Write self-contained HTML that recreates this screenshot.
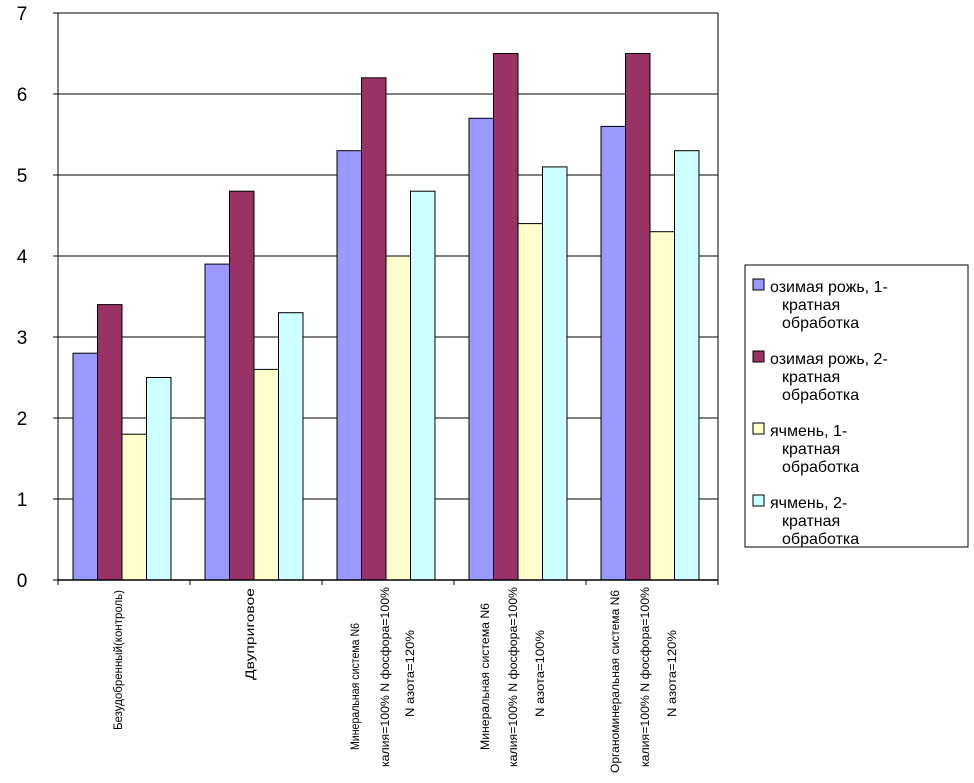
<!DOCTYPE html>
<html><head><meta charset="utf-8"><style>
body{margin:0;background:#fff;}
svg text{font-family:"Liberation Sans",sans-serif;}
</style></head><body>
<svg id="chart" width="974" height="778">
<g id="grid"></g>
<g id="bars"></g>
<g id="axes"></g>
<g id="xlabels"></g>
<g id="legend"></g>
</svg>
<script>
const categories=[
 ["Безудобренный(контроль)"],
 ["Двуприговое"],
 ["Минеральная система N6","калия=100% N фосфора=100%","N азота=120%"],
 ["Минеральная система N6","калия=100% N фосфора=100%","N азота=100%"],
 ["Органоминеральная система N6","калия=100% N фосфора=100%","N азота=120%"]
];
const seriesNames=["озимая рожь, 1-кратная обработка","озимая рожь, 2-кратная обработка","ячмень, 1-кратная обработка","ячмень, 2-кратная обработка"];
const rye1=[2.8,3.9,5.3,5.7,5.6];
const rye2=[3.4,4.8,6.2,6.5,6.5];
const barley1=[1.8,2.6,4.0,4.4,4.3];
const barley2=[2.5,3.3,4.8,5.1,5.3];
const yTicks=[0,1,2,3,4,5,6,7];
</script>
<script>
const NS="http://www.w3.org/2000/svg";
const series=[rye1,rye2,barley1,barley2];
const colors=["#9999ff","#993366","#ffffcc","#ccffff"];
const X0=58,X1=718,Y0=580,Y7=13;
const y=v=>Y0-(v/7)*(Y0-Y7);
const gw=(X1-X0)/categories.length;
const bw=24.5;
function mk(t,a,p){const e=document.createElementNS(NS,t);for(const k in a)e.setAttribute(k,a[k]);p.appendChild(e);return e;}
const grid=document.getElementById('grid');
yTicks.forEach(t=>{
 const l=mk('line',{x1:X0,x2:X1,y1:y(t),y2:y(t),stroke:'#000','stroke-width':1},grid);
 
 
 const tx=mk('text',{x:22,y:y(t)+7,'font-size':19,'text-anchor':'middle'},grid);
 tx.textContent=t;
 
 
});
const bars=document.getElementById('bars');
series.forEach((s,si)=>{
 s.forEach((v,ci)=>{
  const x=X0+ci*gw+15+si*bw;
  const r=mk('rect',{x:x,y:y(v),width:bw,height:Y0-y(v),fill:colors[si],stroke:'#000','stroke-width':1},bars);
  
  
 });
});
const axes=document.getElementById('axes');
mk('line',{x1:X0,x2:X0,y1:Y7,y2:Y0,stroke:'#000'},axes);
mk('line',{x1:X1,x2:X1,y1:Y7,y2:Y0,stroke:'#000'},axes);
mk('line',{x1:X0,x2:X1,y1:Y0,y2:Y0,stroke:'#000','stroke-width':1.5},axes);
for(let i=0;i<=categories.length;i++){mk('line',{x1:X0+i*gw,x2:X0+i*gw,y1:Y0,y2:Y0+5,stroke:'#000'},axes);}
yTicks.forEach(t=>mk('line',{x1:X0-5,x2:X0,y1:y(t),y2:y(t),stroke:'#000'},axes));
// x labels
const xl=document.getElementById('xlabels');
const lay=[
 [[118,590,140]],
 [[250,588,92]],
 [[355,623,127],[385,587,180],[410,630,87]],
 [[485,603,147],[513,587,180],[540,630,87]],
 [[615,590,183],[645,587,180],[672,630,87]]
];
categories.forEach((lines,ci)=>{
 lines.forEach((ln,li)=>{
  const [cx,top,len]=lay[ci][li];
  const t=mk('text',{x:0,y:0,'font-size':12,'text-anchor':'end',textLength:len,lengthAdjust:'spacingAndGlyphs',transform:`translate(${cx+4},${top}) rotate(-90)`},xl);
  t.textContent=ln;
  
  
 });
});
// legend
const lg=document.getElementById('legend');
mk('rect',{x:745,y:265,width:223,height:282,fill:'#fff',stroke:'#000'},lg);
const parts=[["озимая рожь, 1-","кратная","обработка"],["озимая рожь, 2-","кратная","обработка"],["ячмень, 1-","кратная","обработка"],["ячмень, 2-","кратная","обработка"]];
parts.forEach((p,i)=>{
 const ty=287+i*72;
 const sw=mk('rect',{x:753,y:ty-8,width:11,height:11,fill:colors[i],stroke:'#000'},lg);
 
 
 p.forEach((s,j)=>{
  const t=mk('text',{x:j==0?770:782,y:ty+5+j*18,'font-size':16},lg);
  t.textContent=s;
  
  
 });
});
</script>
</body></html>
